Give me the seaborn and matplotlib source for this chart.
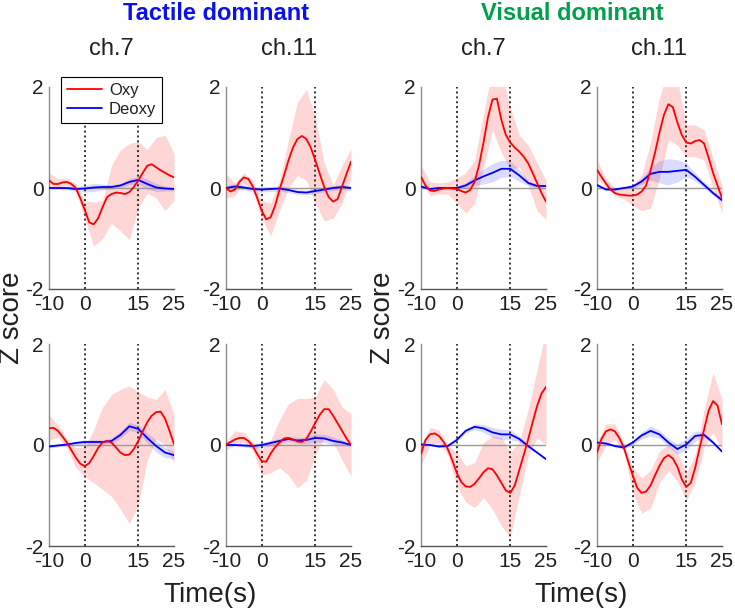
# ============================================================================
# fNIRS EVENT-RELATED Z SCORES: TACTILE VS VISUAL DOMINANT
# ============================================================================

import numpy as np
import matplotlib
matplotlib.use('Agg')
import matplotlib.pyplot as plt
import seaborn as sns

# ============================================================================
# DATA (Z score vs time)
# ============================================================================

# oxy means are read every 1.25 s, bands and deoxy every 2.5 s
time = [-10, -7.5, -5, -2.5, 0, 2.5, 5, 7.5, 10, 12.5, 15, 17.5, 20, 22.5, 25]
time_fine = [-10, -8.75, -7.5, -6.25, -5, -3.75, -2.5, -1.25, 0, 1.25, 2.5, 3.75, 5, 6.25,
             7.5, 8.75, 10, 11.25, 12.5, 13.75, 15, 16.25, 17.5, 18.75, 20, 21.25,
             22.5, 23.75, 25]

# --- top row, tactile dominant, ch.7
tac7_a_oxy = [0.15, 0.08, 0.08, 0.11, 0.12, 0.08, 0.0, -0.2, -0.43, -0.68, -0.72, -0.6, -0.38, -0.18,
              -0.12, -0.09, -0.1, -0.12, -0.08, 0.02, 0.15, 0.3, 0.44, 0.47, 0.41, 0.35, 0.3, 0.25, 0.21]
tac7_a_oxy_lo = [0.0, 0.0, 0.05, -0.08, -0.6, -1.15, -1.0, -0.7, -0.85, -1.02, -0.4, -0.1, -0.2, -0.45, -0.25]
tac7_a_oxy_hi = [0.3, 0.18, 0.2, 0.08, -0.25, -0.28, -0.25, 0.45, 0.75, 0.88, 0.92, 0.76, 1.0, 1.05, 0.68]
tac7_a_deoxy = [0.0, 0.0, 0.0, -0.02, -0.01, 0.01, 0.02, 0.02, 0.05, 0.12, 0.16, 0.08, 0.01, -0.01, -0.02]
tac7_a_deoxy_sem = [0.02, 0.02, 0.03, 0.04, 0.07, 0.08, 0.06, 0.04, 0.04, 0.06, 0.08, 0.1, 0.08, 0.05, 0.04]

# --- top row, tactile dominant, ch.11
tac11_a_oxy = [0.0, -0.07, -0.03, 0.12, 0.21, 0.18, 0.03, -0.2, -0.45, -0.62, -0.58, -0.35, -0.03, 0.25,
               0.55, 0.8, 0.97, 1.03, 0.97, 0.8, 0.55, 0.28, 0.02, -0.18, -0.27, -0.22, 0.03, 0.28, 0.52]
tac11_a_oxy_lo = [-0.2, -0.15, 0.1, -0.05, -0.6, -0.95, -0.45, 0.0, 0.25, 0.15, -0.3, -0.65, -0.6, -0.3, 0.2]
tac11_a_oxy_hi = [0.28, 0.1, 0.3, 0.15, -0.25, -0.3, 0.15, 0.95, 1.7, 1.95, 1.4, 0.5, 0.05, 0.45, 0.78]
tac11_a_deoxy = [0.0, 0.03, 0.01, -0.02, -0.03, -0.02, -0.01, -0.04, -0.08, -0.09, -0.06, -0.03, 0.0, 0.02, 0.0]
tac11_a_deoxy_sem = [0.05, 0.05, 0.05, 0.05, 0.05, 0.05, 0.05, 0.05, 0.05, 0.05, 0.05, 0.05, 0.05, 0.05, 0.05]

# --- top row, visual dominant, ch.7
vis7_a_oxy = [0.22, 0.05, -0.05, -0.06, -0.03, -0.01, 0.0, -0.01, -0.02, -0.06, -0.09, -0.04, 0.12, 0.45,
              0.9, 1.4, 1.75, 1.77, 1.35, 1.05, 0.9, 0.8, 0.72, 0.62, 0.49, 0.3, 0.1, -0.1, -0.27]
vis7_a_oxy_lo = [0.1, -0.15, -0.12, -0.12, -0.3, -0.5, -0.3, 0.4, 1.15, 0.7, 0.36, 0.42, 0.06, -0.45, -0.63]
vis7_a_oxy_hi = [0.45, 0.12, 0.1, 0.12, 0.2, 0.3, 0.55, 1.45, 2.4, 2.3, 1.6, 1.05, 0.85, 0.5, 0.15]
vis7_a_deoxy = [0.03, -0.02, 0.0, 0.0, 0.0, 0.05, 0.15, 0.23, 0.3, 0.38, 0.38, 0.25, 0.1, 0.04, 0.04]
vis7_a_deoxy_sem = [0.02, 0.02, 0.02, 0.02, 0.03, 0.05, 0.1, 0.15, 0.18, 0.17, 0.15, 0.12, 0.05, 0.03, 0.02]

# --- top row, visual dominant, ch.11
vis11_a_oxy = [0.36, 0.22, 0.09, -0.03, -0.1, -0.13, -0.14, -0.15, -0.15, -0.13, -0.07, 0.05, 0.35, 0.7,
               1.1, 1.45, 1.66, 1.6, 1.3, 1.05, 0.9, 0.88, 0.93, 0.95, 0.88, 0.6, 0.3, 0.05, -0.2]
vis11_a_oxy_lo = [0.2, 0.0, -0.15, -0.22, -0.35, -0.45, -0.4, 0.2, 0.95, 0.85, 0.62, 0.62, 0.55, 0.0, -0.5]
vis11_a_oxy_hi = [0.55, 0.2, 0.0, -0.02, 0.05, 0.25, 0.9, 1.8, 2.35, 2.15, 1.25, 1.25, 1.15, 0.6, 0.05]
vis11_a_deoxy = [0.06, -0.03, -0.03, 0.0, 0.03, 0.13, 0.28, 0.32, 0.32, 0.34, 0.36, 0.22, 0.06, -0.1, -0.24]
vis11_a_deoxy_sem = [0.02, 0.02, 0.02, 0.02, 0.03, 0.06, 0.12, 0.22, 0.26, 0.22, 0.14, 0.08, 0.06, 0.05, 0.04]

# --- bottom row, tactile dominant, ch.7
tac7_b_oxy = [0.33, 0.34, 0.28, 0.17, 0.05, -0.1, -0.25, -0.37, -0.42, -0.36, -0.22, -0.06, 0.05, 0.08,
              0.05, -0.05, -0.15, -0.2, -0.19, -0.08, 0.08, 0.27, 0.45, 0.58, 0.65, 0.66, 0.52, 0.28, 0.02]
tac7_b_oxy_lo = [0.1, 0.15, -0.05, -0.45, -0.62, -0.75, -0.88, -1.02, -1.27, -1.55, -1.2, -0.3, 0.12, 0.0, -0.35]
tac7_b_oxy_hi = [0.6, 0.4, 0.12, -0.05, -0.05, 0.3, 0.75, 1.0, 1.1, 1.17, 1.05, 0.95, 0.9, 1.1, 0.6]
tac7_b_deoxy = [-0.03, -0.01, 0.01, 0.04, 0.06, 0.06, 0.06, 0.08, 0.2, 0.37, 0.32, 0.14, -0.02, -0.15, -0.2]
tac7_b_deoxy_sem = [0.03, 0.03, 0.03, 0.03, 0.04, 0.04, 0.04, 0.06, 0.07, 0.08, 0.08, 0.1, 0.12, 0.1, 0.08]

# --- bottom row, tactile dominant, ch.11
tac11_b_oxy = [0.01, 0.06, 0.11, 0.14, 0.14, 0.08, -0.02, -0.18, -0.32, -0.33, -0.17, -0.04, 0.05, 0.13,
               0.14, 0.11, 0.07, 0.06, 0.12, 0.27, 0.44, 0.6, 0.71, 0.71, 0.58, 0.43, 0.28, 0.13, 0.0]
tac11_b_oxy_lo = [-0.1, 0.0, 0.05, -0.1, -0.6, -0.55, -0.45, -0.6, -0.85, -0.7, -0.2, 0.14, 0.05, -0.3, -0.62]
tac11_b_oxy_hi = [0.07, 0.28, 0.25, 0.05, -0.1, 0.1, 0.5, 0.82, 0.92, 0.92, 0.95, 1.3, 1.1, 0.75, 0.62]
tac11_b_deoxy = [0.0, 0.0, -0.01, -0.02, 0.0, 0.04, 0.08, 0.12, 0.09, 0.1, 0.14, 0.13, 0.08, 0.05, 0.0]
tac11_b_deoxy_sem = [0.02, 0.02, 0.03, 0.04, 0.05, 0.05, 0.05, 0.05, 0.06, 0.07, 0.08, 0.08, 0.08, 0.05, 0.03]

# --- bottom row, visual dominant, ch.7
vis7_b_oxy = [-0.18, 0.1, 0.21, 0.23, 0.18, 0.07, -0.08, -0.3, -0.55, -0.73, -0.82, -0.83, -0.77, -0.66,
              -0.54, -0.46, -0.48, -0.6, -0.75, -0.9, -0.95, -0.8, -0.5, -0.2, 0.11, 0.45, 0.77, 1.02, 1.15]
vis7_b_oxy_lo = [-0.4, 0.0, 0.05, -0.2, -0.82, -1.13, -1.24, -1.04, -1.27, -1.6, -1.83, -1.0, -0.22, 0.14, 0.0]
vis7_b_oxy_hi = [0.0, 0.35, 0.3, 0.0, -0.15, -0.41, -0.35, 0.05, 0.18, 0.15, -0.15, 0.05, 0.7, 1.49, 2.28]
vis7_b_deoxy = [0.01, 0.0, -0.03, -0.02, 0.1, 0.28, 0.36, 0.33, 0.25, 0.21, 0.21, 0.12, -0.02, -0.15, -0.28]
vis7_b_deoxy_sem = [0.02, 0.02, 0.02, 0.02, 0.03, 0.04, 0.06, 0.08, 0.1, 0.1, 0.1, 0.06, 0.03, 0.02, 0.02]

# --- bottom row, visual dominant, ch.11
vis11_b_oxy = [-0.15, 0.12, 0.27, 0.31, 0.27, 0.14, -0.05, -0.33, -0.6, -0.85, -0.95, -0.92, -0.8, -0.6,
               -0.41, -0.26, -0.2, -0.27, -0.43, -0.68, -0.83, -0.75, -0.45, -0.05, 0.31, 0.68, 0.87, 0.78, 0.41]
vis11_b_oxy_lo = [-0.35, 0.0, 0.1, -0.12, -0.95, -1.35, -1.25, -0.75, -0.5, -0.72, -1.1, -0.75, -0.05, 0.25, -0.1]
vis11_b_oxy_hi = [0.05, 0.42, 0.42, 0.05, -0.45, -0.65, -0.5, -0.12, 0.02, -0.15, -0.55, -0.2, 0.7, 1.43, 0.9]
vis11_b_deoxy = [0.05, 0.03, -0.02, -0.05, 0.05, 0.19, 0.28, 0.21, 0.05, -0.08, 0.01, 0.18, 0.2, 0.05, -0.13]
vis11_b_deoxy_sem = [0.02, 0.02, 0.02, 0.03, 0.04, 0.07, 0.1, 0.08, 0.08, 0.1, 0.12, 0.1, 0.05, 0.03, 0.02]

channels = ['ch.7', 'ch.11', 'ch.7', 'ch.11']
x_ticks = [-10, 0, 15, 25]
y_ticks = [-2, 0, 2]

panels = [
    [
        (tac7_a_oxy, tac7_a_oxy_lo, tac7_a_oxy_hi, tac7_a_deoxy, tac7_a_deoxy_sem),
        (tac11_a_oxy, tac11_a_oxy_lo, tac11_a_oxy_hi, tac11_a_deoxy, tac11_a_deoxy_sem),
        (vis7_a_oxy, vis7_a_oxy_lo, vis7_a_oxy_hi, vis7_a_deoxy, vis7_a_deoxy_sem),
        (vis11_a_oxy, vis11_a_oxy_lo, vis11_a_oxy_hi, vis11_a_deoxy, vis11_a_deoxy_sem),
    ],
    [
        (tac7_b_oxy, tac7_b_oxy_lo, tac7_b_oxy_hi, tac7_b_deoxy, tac7_b_deoxy_sem),
        (tac11_b_oxy, tac11_b_oxy_lo, tac11_b_oxy_hi, tac11_b_deoxy, tac11_b_deoxy_sem),
        (vis7_b_oxy, vis7_b_oxy_lo, vis7_b_oxy_hi, vis7_b_deoxy, vis7_b_deoxy_sem),
        (vis11_b_oxy, vis11_b_oxy_lo, vis11_b_oxy_hi, vis11_b_deoxy, vis11_b_deoxy_sem),
    ],
]

# ============================================================================
# STYLE
# ============================================================================

sns.set_style('white')
plt.rcParams['font.family'] = ['Liberation Sans', 'DejaVu Sans']
plt.rcParams['axes.unicode_minus'] = False
plt.rcParams['text.color'] = '#231F20'
plt.rcParams['xtick.color'] = '#231F20'
plt.rcParams['ytick.color'] = '#231F20'

RED = '#FF0000'
BLUE = '#0000FF'

# ============================================================================
# FIGURE
# ============================================================================

fig = plt.figure(figsize=(7.35, 6.08), dpi=100)

FW, FH = 735, 608
lefts = [49, 226, 421, 597]
tops = [87, 344]
AW, AH = 125, 202

t = np.array(time)
tf = np.array(time_fine)

for r, row in enumerate(panels):
    for c, (oxy, oxy_lo, oxy_hi, deoxy, deoxy_sem) in enumerate(row):
        ax = fig.add_axes([lefts[c] / FW, 1 - (tops[r] + AH) / FH, AW / FW, AH / FH])

        deoxy = np.array(deoxy)
        sem = np.array(deoxy_sem)

        ax.fill_between(t, oxy_lo, oxy_hi, color=RED, alpha=0.16, linewidth=0, zorder=1)
        ax.fill_between(t, deoxy - sem, deoxy + sem, color=BLUE, alpha=0.14, linewidth=0, zorder=1.5)

        ax.axhline(0, color='#9a9a9a', linewidth=1.0, zorder=2)
        for xv in [0, 15]:
            ax.axvline(xv, color='black', linewidth=1.1, linestyle=(0, (1.3, 1.9)), zorder=2.5)

        first = (r == 0 and c == 0)
        sns.lineplot(x=t, y=deoxy, color=BLUE, linewidth=1.3, ax=ax, zorder=3,
                     label='Deoxy' if first else None, legend=False)
        sns.lineplot(x=tf, y=oxy, color=RED, linewidth=1.3, ax=ax, zorder=4,
                     label='Oxy' if first else None, legend=False)

        ax.set_xlim(-10, 25)
        ax.set_ylim(-2, 2)
        ax.set_xticks(x_ticks)
        ax.set_yticks(y_ticks)
        ax.set_yticks(np.arange(-2, 2.01, 0.5), minor=True)
        ax.set_xlabel('')
        ax.set_ylabel('')

        ax.tick_params(axis='y', which='both', direction='in', length=3,
                       color='#a0a0a0', labelsize=15, pad=4)
        ax.tick_params(axis='x', which='both', direction='in', length=0,
                       labelsize=15, pad=4)

        for side in ['top', 'right']:
            ax.spines[side].set_visible(False)
        ax.spines['left'].set_color('#8c8c8c')
        ax.spines['bottom'].set_color('#555555')
        ax.spines['left'].set_linewidth(1.0)
        ax.spines['bottom'].set_linewidth(1.0)

        if r == 0:
            ax.set_title(channels[c], fontsize=17, pad=23)

        if first:
            handles, labels = ax.get_legend_handles_labels()
            order = [labels.index('Oxy'), labels.index('Deoxy')]
            leg = ax.legend([handles[i] for i in order], [labels[i] for i in order],
                            loc='upper center', bbox_to_anchor=(0.5, 1.05),
                            fontsize=12, frameon=True, fancybox=False,
                            edgecolor='black', framealpha=1,
                            handlelength=2.15, handletextpad=0.4,
                            borderpad=0.35, labelspacing=0.25, borderaxespad=0)
            leg.get_frame().set_linewidth(0.8)
            leg.set_zorder(10)

# ============================================================================
# GROUP TITLES AND AXIS LABELS
# ============================================================================

fig.text(216 / FW, 1 - 20 / FH, 'Tactile dominant', color='#0A10F0',
         fontsize=17, fontweight='bold', ha='center', va='baseline')
fig.text(572 / FW, 1 - 20 / FH, 'Visual dominant', color='#00A04A',
         fontsize=17, fontweight='bold', ha='center', va='baseline')

for xc in [12, 383]:
    fig.text(xc / FW, 1 - 318 / FH, 'Z score', rotation=90,
             fontsize=20, ha='center', va='center')

for xc in [210, 581]:
    fig.text(xc / FW, 1 - 602 / FH, 'Time(s)',
             fontsize=20, ha='center', va='baseline')

plt.savefig('out.png', dpi=100)
